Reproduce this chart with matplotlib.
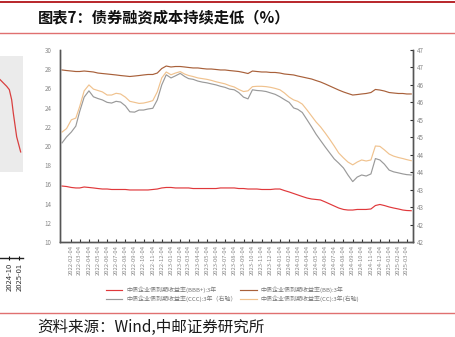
import numpy as np
import pandas as pd
import matplotlib
matplotlib.use('Agg')
import matplotlib.pyplot as plt
import matplotlib.dates as mdates
from matplotlib.lines import Line2D
from matplotlib.patches import Rectangle
from matplotlib.ticker import MultipleLocator, FormatStrFormatter

plt.rcParams['font.family'] = ['Noto Sans CJK SC', 'DejaVu Sans']

# half-monthly sample dates (4th and 19th of each month)
months = pd.date_range('2022-01-01', '2025-03-01', freq='MS')
dates = []
for m in months:
    dates += [m + pd.Timedelta(days=3), m + pd.Timedelta(days=18)]

# left axis: BBB+ and BB
bbb_plus = [15.83, 15.78, 15.68, 15.63, 15.63, 15.73, 15.68, 15.63, 15.57, 15.52,
            15.52, 15.47, 15.47, 15.47, 15.47, 15.42, 15.42, 15.42, 15.42, 15.42,
            15.47, 15.52, 15.63, 15.68, 15.68, 15.63, 15.63, 15.63, 15.63, 15.57,
            15.57, 15.57, 15.57, 15.57, 15.57, 15.63, 15.63, 15.63, 15.63, 15.57,
            15.57, 15.52, 15.52, 15.52, 15.47, 15.47, 15.47, 15.52, 15.52, 15.36,
            15.21, 15.05, 14.90, 14.74, 14.58, 14.48, 14.43, 14.38, 14.17, 13.96,
            13.75, 13.54, 13.39, 13.33, 13.33, 13.39, 13.39, 13.39, 13.44, 13.80,
            13.91, 13.80, 13.65, 13.54, 13.44, 13.33, 13.28, 13.26]
bb = [27.92, 27.86, 27.81, 27.76, 27.76, 27.81, 27.76, 27.71, 27.60, 27.55,
      27.50, 27.45, 27.40, 27.34, 27.29, 27.24, 27.29, 27.34, 27.40, 27.45,
      27.45, 27.60, 28.07, 28.33, 28.23, 28.28, 28.28, 28.23, 28.18, 28.13,
      28.13, 28.07, 28.02, 28.02, 27.97, 27.92, 27.92, 27.86, 27.81, 27.76,
      27.66, 27.55, 27.81, 27.76, 27.71, 27.71, 27.66, 27.66, 27.60, 27.50,
      27.45, 27.40, 27.29, 27.19, 27.08, 26.98, 26.82, 26.67, 26.46, 26.25,
      26.04, 25.83, 25.63, 25.47, 25.31, 25.36, 25.42, 25.47, 25.57, 25.89,
      25.83, 25.73, 25.57, 25.52, 25.47, 25.47, 25.42, 25.42]
# right axis: CCC and CC
ccc = [44.44, 44.61, 44.75, 44.92, 45.34, 45.75, 45.93, 45.76, 45.71, 45.67,
       45.60, 45.58, 45.63, 45.61, 45.50, 45.33, 45.32, 45.38, 45.38, 45.41,
       45.43, 45.67, 46.10, 46.39, 46.30, 46.36, 46.43, 46.34, 46.28, 46.26,
       46.21, 46.18, 46.16, 46.13, 46.10, 46.06, 46.03, 45.98, 45.96, 45.88,
       45.75, 45.70, 45.96, 45.94, 45.93, 45.91, 45.87, 45.83, 45.76, 45.68,
       45.60, 45.44, 45.40, 45.31, 45.10, 44.90, 44.69, 44.51, 44.32, 44.15,
       43.98, 43.86, 43.72, 43.52, 43.33, 43.46, 43.52, 43.49, 43.55, 43.99,
       43.95, 43.83, 43.66, 43.61, 43.58, 43.55, 43.53, 43.52]
cc = [44.75, 44.85, 45.10, 45.15, 45.48, 45.93, 46.10, 45.98, 45.94, 45.90,
      45.81, 45.81, 45.86, 45.84, 45.75, 45.63, 45.60, 45.57, 45.58, 45.61,
      45.65, 45.90, 46.30, 46.47, 46.39, 46.44, 46.48, 46.41, 46.37, 46.34,
      46.30, 46.28, 46.26, 46.23, 46.19, 46.16, 46.13, 46.08, 46.04, 45.97,
      45.91, 45.93, 46.05, 46.06, 46.06, 46.05, 46.03, 46.00, 45.96, 45.87,
      45.75, 45.67, 45.63, 45.55, 45.38, 45.21, 45.04, 44.90, 44.72, 44.54,
      44.35, 44.15, 44.01, 43.89, 43.81, 43.89, 43.95, 43.92, 43.95, 44.35,
      44.34, 44.24, 44.12, 44.06, 44.02, 43.99, 43.96, 43.93]

labels = ['中债企业债到期收益率(BBB+):3年', '中债企业债到期收益率(BB):3年',
          '中债企业债到期收益率(CCC):3年（右轴）', '中债企业债到期收益率(CC):3年(右轴)']

# cut-off neighbouring chart on the left edge
prev_x = [-2.8, -1.8, -0.8, 0.0, 0.7, 1.2, 2.2, 3.4]
prev_y = [2.26, 2.24, 2.22, 2.20, 2.14, 2.06, 1.92, 1.83]
prev_ticks = [0, 3]
prev_ticklabels = ['2024-10', '2025-01']

W, H = 456, 337
fig = plt.figure(figsize=(W / 100, H / 100), dpi=100)

def fx(px):
    return px / W

def fy(py):
    return 1 - py / H

# header / footer rules
fig.add_artist(Line2D([0, 1], [fy(2), fy(2)], color='#b8252a', lw=1.4))
fig.add_artist(Line2D([0, 1], [fy(33), fy(33)], color='#e07070', lw=1.0))
fig.add_artist(Line2D([0, 1], [fy(313), fy(313)], color='#e07070', lw=1.0))
fig.text(fx(38), fy(17), '图表7：债券融资成本持续走低（%）', fontsize=11,
         fontweight='bold', color='#111111', va='center')
fig.text(fx(37), fy(327), '资料来源：Wind,中邮证券研究所', fontsize=11.2,
         color='#1a1a1a', va='center')

# partial chart on the left
axp = fig.add_axes([0, fy(258), fx(23), (258 - 56) / H])
axp.set_xlim(-2.8, 4.1)
axp.set_ylim(1.2, 2.4)
axp.add_patch(Rectangle((0, 1.71), 0.985, 0.69, transform=axp.get_yaxis_transform(),
                        facecolor='#ebebeb', edgecolor='none'))
axp.plot(prev_x, prev_y, color='#d94040', lw=0.9)
for s in ['top', 'left', 'right']:
    axp.spines[s].set_visible(False)
axp.spines['bottom'].set_color('#222222')
axp.spines['bottom'].set_linewidth(1.0)
axp.set_yticks([])
axp.set_xticks(prev_ticks)
axp.set_xticklabels(prev_ticklabels, rotation=90, fontsize=5.5, color='#333333')
axp.tick_params(axis='x', direction='inout', length=3, width=0.8, pad=2)

# main chart
ax = fig.add_axes([fx(60), fy(242), fx(413) - fx(60), (242 - 50) / H])
ax2 = ax.twinx()

l1, = ax.plot(dates, bbb_plus, color='#e0383b', lw=0.85)
l2, = ax.plot(dates, bb, color='#a8603a', lw=0.85)
l3, = ax2.plot(dates, ccc, color='#9a9a9a', lw=0.85)
l4, = ax2.plot(dates, cc, color='#f0c28e', lw=0.85)

ax.set_xlim(pd.Timestamp('2021-12-28'), pd.Timestamp('2025-03-25'))
ax.set_ylim(10, 30)
ax.yaxis.set_major_locator(MultipleLocator(2))
ax2.set_ylim(41.6, 47.1)
ax2.set_yticks(np.arange(41.6, 47.15, 0.5))
ax2.yaxis.set_major_formatter(FormatStrFormatter('%.0f'))

tick_dates = pd.date_range('2022-01-04', '2025-03-04', freq='MS') + pd.Timedelta(days=3)
ax.set_xticks(tick_dates)
ax.xaxis.set_major_formatter(mdates.DateFormatter('%Y-%m-%d'))
for lab in ax.get_xticklabels():
    lab.set_rotation(90)

for a in (ax, ax2):
    a.spines['top'].set_visible(False)
    for s in ['left', 'right', 'bottom']:
        a.spines[s].set_color('#555555')
        a.spines[s].set_linewidth(1.0)
    a.set_facecolor('none')
ax.tick_params(axis='x', direction='in', length=2, width=0.8, labelsize=4.2,
               labelcolor='#888888', color='#333333', pad=2)
ax.tick_params(axis='y', direction='in', length=0, labelsize=4.5,
               labelcolor='#888888', pad=6)
ax2.tick_params(axis='y', direction='in', length=2, width=0.8, labelsize=4.5,
                labelcolor='#888888', color='#333333', pad=3)
for lab in ax2.get_yticklabels():
    lab.set_fontstyle('italic')

fig.legend([l1, l3, l2, l4], [labels[0], labels[2], labels[1], labels[3]],
           ncol=2, loc='upper left', bbox_to_anchor=(fx(103), fy(283)),
           frameon=False, fontsize=4.3, handlelength=2.7, handletextpad=0.7,
           columnspacing=0.6, labelspacing=0.5, borderpad=0, labelcolor='#777777')

fig.savefig('out.png', dpi=100)
